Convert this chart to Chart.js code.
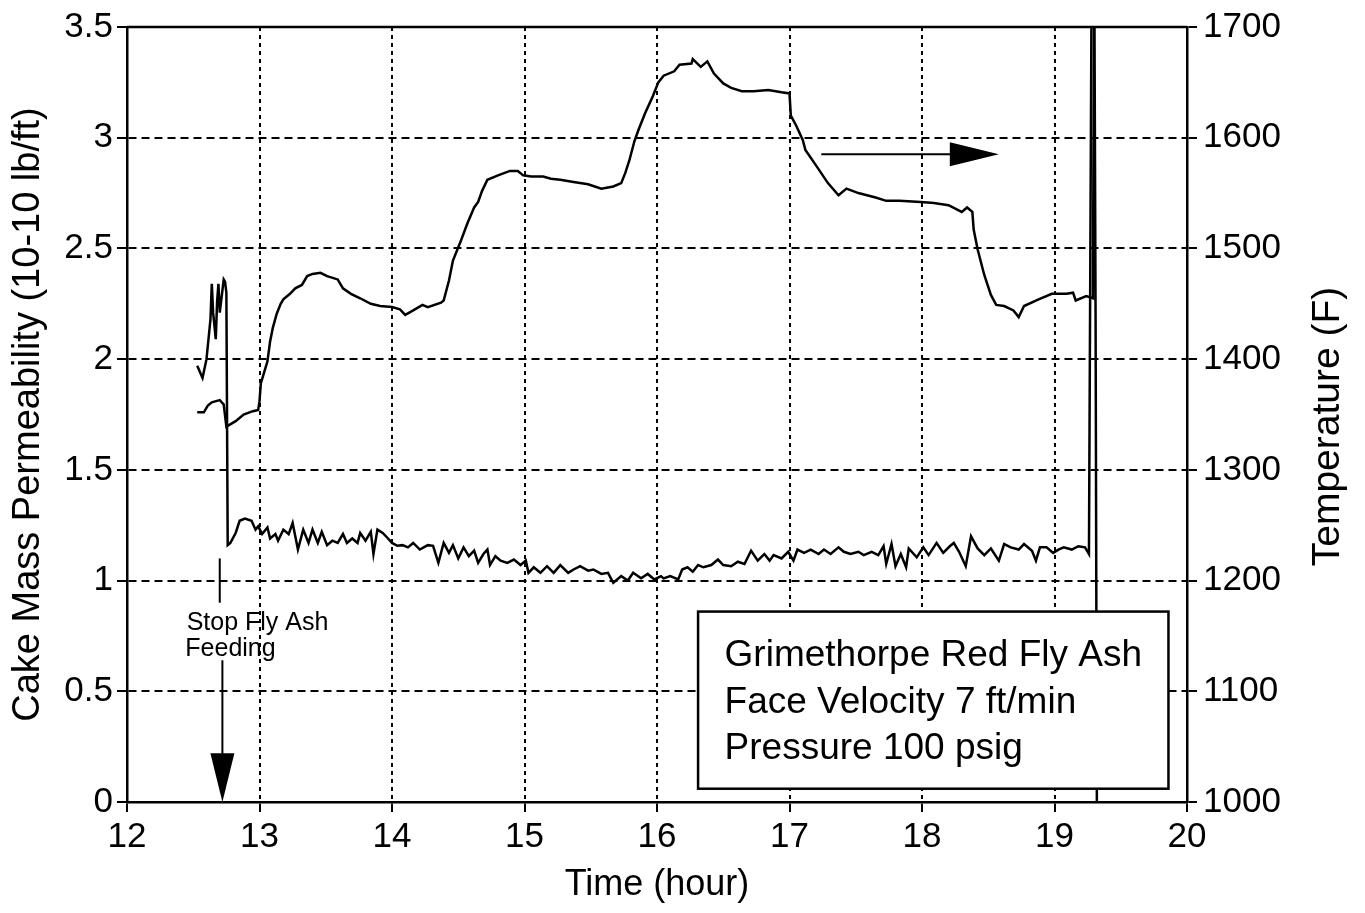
<!DOCTYPE html>
<html>
<head>
<meta charset="utf-8">
<title>Cake Mass Permeability and Temperature</title>
<script src="https://cdn.jsdelivr.net/npm/chart.js@4.4.1/dist/chart.umd.min.js"></script>
<style>
  html, body { margin: 0; padding: 0; background: #fff; }
  #wrap { width: 1365px; height: 913px; }
</style>
</head>
<body>
<div id="wrap"><canvas id="perm-chart" width="1365" height="913"></canvas></div>
<script>
// cake mass permeability, 10^-10 lb/ft (left axis)
var permTime = [
    12.53, 12.57, 12.60, 12.63, 12.64, 12.65, 12.67, 12.68, 12.69, 12.70,
    12.72, 12.73, 12.74, 12.75, 12.76, 12.77, 12.78, 12.82, 12.85, 12.89,
    12.94, 12.97, 12.99, 13.02, 13.06, 13.08, 13.12, 13.14, 13.18, 13.22,
    13.25, 13.29, 13.33, 13.37, 13.40, 13.44, 13.47, 13.51, 13.55, 13.59,
    13.63, 13.66, 13.70, 13.74, 13.76, 13.80, 13.84, 13.86, 13.89, 13.93,
    13.97, 14.00, 14.04, 14.08, 14.12, 14.16, 14.21, 14.27, 14.31, 14.35,
    14.39, 14.43, 14.46, 14.50, 14.54, 14.58, 14.62, 14.65, 14.69, 14.72,
    14.74, 14.78, 14.82, 14.87, 14.92, 14.97, 15.01, 15.03, 15.07, 15.12,
    15.17, 15.22, 15.27, 15.33, 15.37, 15.42, 15.48, 15.52, 15.58, 15.63,
    15.67, 15.73, 15.78, 15.82, 15.88, 15.93, 15.98, 16.03, 16.05, 16.10,
    16.16, 16.19, 16.23, 16.27, 16.31, 16.35, 16.41, 16.46, 16.50, 16.56,
    16.61, 16.66, 16.71, 16.76, 16.81, 16.85, 16.88, 16.94, 16.99, 17.03,
    17.06, 17.11, 17.16, 17.22, 17.26, 17.31, 17.37, 17.41, 17.46, 17.52,
    17.56, 17.62, 17.67, 17.71, 17.73, 17.77, 17.80, 17.84, 17.88, 17.90,
    17.96, 18.01, 18.05, 18.11, 18.16, 18.21, 18.24, 18.28, 18.33, 18.37,
    18.42, 18.47, 18.52, 18.58, 18.62, 18.67, 18.73, 18.77, 18.83, 18.86,
    18.89, 18.94, 18.99, 19.03, 19.07, 19.13, 19.18, 19.23, 19.26, 19.28
];
var permValue = [
    1.97, 1.915, 2.00, 2.18, 2.34, 2.21, 2.09, 2.26, 2.34, 2.21,
    2.31, 2.36, 2.35, 2.30, 1.16, 1.165, 1.17, 1.215, 1.27, 1.28,
    1.27, 1.23, 1.245, 1.21, 1.24, 1.19, 1.21, 1.18, 1.23, 1.21,
    1.26, 1.14, 1.23, 1.17, 1.23, 1.17, 1.22, 1.16, 1.18, 1.17,
    1.21, 1.17, 1.19, 1.17, 1.215, 1.18, 1.22, 1.12, 1.23, 1.215,
    1.19, 1.17, 1.157, 1.16, 1.15, 1.17, 1.14, 1.16, 1.157, 1.08,
    1.17, 1.125, 1.16, 1.10, 1.15, 1.11, 1.135, 1.08, 1.12, 1.14,
    1.07, 1.11, 1.09, 1.08, 1.095, 1.07, 1.09, 1.035, 1.06, 1.035,
    1.065, 1.035, 1.07, 1.035, 1.05, 1.065, 1.045, 1.05, 1.03, 1.035,
    0.99, 1.02, 1.00, 1.035, 1.01, 1.03, 1.005, 1.02, 1.01, 1.02,
    1.005, 1.05, 1.06, 1.04, 1.07, 1.06, 1.07, 1.095, 1.07, 1.065,
    1.085, 1.075, 1.135, 1.09, 1.12, 1.09, 1.115, 1.10, 1.13, 1.09,
    1.14, 1.125, 1.14, 1.12, 1.14, 1.12, 1.15, 1.13, 1.12, 1.13,
    1.115, 1.13, 1.115, 1.155, 1.075, 1.165, 1.065, 1.12, 1.06, 1.145,
    1.105, 1.15, 1.115, 1.17, 1.125, 1.155, 1.17, 1.13, 1.065, 1.20,
    1.145, 1.115, 1.145, 1.09, 1.165, 1.15, 1.14, 1.165, 1.135, 1.09,
    1.15, 1.15, 1.125, 1.14, 1.15, 1.14, 1.155, 1.15, 1.12, 3.70
];

// filter temperature, F (right axis)
var tempTime = [
    12.53, 12.58, 12.61, 12.64, 12.70, 12.73, 12.75, 12.82, 12.88, 12.95,
    12.99, 13.00, 13.01, 13.03, 13.06, 13.08, 13.10, 13.13, 13.16, 13.18,
    13.23, 13.27, 13.32, 13.36, 13.40, 13.46, 13.51, 13.59, 13.63, 13.69,
    13.76, 13.84, 13.91, 14.00, 14.06, 14.10, 14.16, 14.23, 14.27, 14.37,
    14.39, 14.43, 14.46, 14.52, 14.57, 14.62, 14.65, 14.68, 14.72, 14.80,
    14.89, 14.95, 14.99, 15.05, 15.14, 15.20, 15.27, 15.37, 15.48, 15.58,
    15.67, 15.73, 15.76, 15.79, 15.83, 15.86, 15.91, 15.97, 16.01, 16.05,
    16.13, 16.17, 16.26, 16.27, 16.33, 16.38, 16.43, 16.50, 16.56, 16.64,
    16.73, 16.84, 16.94, 17.00, 17.01, 17.05, 17.10, 17.12, 17.20, 17.29,
    17.37, 17.43, 17.52, 17.65, 17.73, 17.83, 17.99, 18.09, 18.20, 18.30,
    18.34, 18.38, 18.39, 18.42, 18.47, 18.52, 18.56, 18.62, 18.69, 18.73,
    18.77, 18.88, 18.98, 19.09, 19.14, 19.16, 19.24, 19.29, 19.30, 19.31,
    19.32
];
var tempValue = [
    1352, 1352, 1358, 1361, 1363, 1359, 1339, 1344, 1350, 1353,
    1354, 1362, 1378, 1386, 1398, 1416, 1428, 1441, 1450, 1454,
    1459, 1464, 1467, 1475, 1477, 1478, 1475, 1472, 1464, 1459,
    1455, 1450, 1448, 1447, 1445, 1440, 1444, 1449, 1447, 1451,
    1453, 1471, 1489, 1507, 1523, 1537, 1542, 1552, 1562, 1566,
    1570, 1570, 1566, 1565, 1565, 1563, 1562, 1560, 1558, 1554,
    1556, 1559, 1568, 1579, 1597, 1607, 1622, 1638, 1650, 1656,
    1660, 1666, 1667, 1671, 1664, 1669, 1658, 1649, 1645, 1642,
    1642, 1643, 1641, 1640, 1620, 1611, 1598, 1589, 1575, 1559,
    1548, 1554, 1550, 1546, 1543, 1543, 1542, 1541, 1539, 1533,
    1537, 1533, 1517, 1499, 1476, 1458, 1449, 1448, 1444, 1438,
    1448, 1454, 1459, 1459, 1460, 1453, 1457, 1455, 1760, 1440,
    990
];

var infoLines = ["Grimethorpe Red Fly Ash", "Face Velocity 7 ft/min", "Pressure 100 psig"];
var feedLines = ["Stop Fly Ash", "Feeding"];

var FONT = '"Liberation Sans", Arial, Helvetica, sans-serif';
Chart.defaults.font.family = FONT;
Chart.defaults.color = '#000';

function toPoints(xs, ys) {
    return xs.map(function (x, i) { return { x: x, y: ys[i] }; });
}

function arrowHead(ctx, tipX, tipY, baseX, baseY, half) {
    var dx = tipX - baseX, dy = tipY - baseY;
    var len = Math.sqrt(dx * dx + dy * dy);
    var nx = -dy / len * half, ny = dx / len * half;
    ctx.beginPath();
    ctx.moveTo(tipX, tipY);
    ctx.lineTo(baseX + nx, baseY + ny);
    ctx.lineTo(baseX - nx, baseY - ny);
    ctx.closePath();
    ctx.fill();
}

// frame top, arrows, notes and the info box
var notes = {
    id: 'notes',
    afterDatasetsDraw: function (chart) {
        var ctx = chart.ctx;
        var xs = chart.scales.x, ys = chart.scales.y, ts = chart.scales.y2;
        var area = chart.chartArea;
        ctx.save();
        ctx.strokeStyle = '#000';
        ctx.fillStyle = '#000';

        ctx.lineWidth = 2.5;
        ctx.beginPath();
        ctx.moveTo(area.left, area.top);
        ctx.lineTo(area.right, area.top);
        ctx.stroke();

        // temperature curve belongs to the right axis
        var ay = ts.getPixelForValue(1585);
        ctx.lineWidth = 2;
        ctx.beginPath();
        ctx.moveTo(xs.getPixelForValue(17.24), ay);
        ctx.lineTo(xs.getPixelForValue(18.22), ay);
        ctx.stroke();
        arrowHead(ctx, xs.getPixelForValue(18.58), ay, xs.getPixelForValue(18.21), ay, 12);

        // stop feeding marker
        var fx = xs.getPixelForValue(12.70);
        ctx.lineWidth = 2;
        ctx.beginPath();
        ctx.moveTo(fx, ys.getPixelForValue(1.1));
        ctx.lineTo(fx, ys.getPixelForValue(0.9));
        ctx.stroke();
        ctx.font = '25px ' + FONT;
        ctx.textAlign = 'left';
        ctx.textBaseline = 'alphabetic';
        ctx.fillText(feedLines[0], xs.getPixelForValue(12.45), ys.getPixelForValue(0.775));
        ctx.fillText(feedLines[1], xs.getPixelForValue(12.44), ys.getPixelForValue(0.66));
        var sx = xs.getPixelForValue(12.72);
        ctx.beginPath();
        ctx.moveTo(sx, ys.getPixelForValue(0.64));
        ctx.lineTo(sx, ys.getPixelForValue(0.2));
        ctx.stroke();
        arrowHead(ctx, sx, ys.getPixelForValue(0), sx, ys.getPixelForValue(0.22), 12);

        // info box
        var bl = xs.getPixelForValue(16.31), br = xs.getPixelForValue(19.86);
        var bt = ys.getPixelForValue(0.86), bb = ys.getPixelForValue(0.06);
        ctx.fillStyle = '#fff';
        ctx.fillRect(bl, bt, br - bl, bb - bt);
        ctx.lineWidth = 2.5;
        ctx.strokeRect(bl, bt, br - bl, bb - bt);
        ctx.fillStyle = '#000';
        ctx.font = '37px ' + FONT;
        var tx = xs.getPixelForValue(16.51);
        var rows = [0.615, 0.404, 0.193];
        infoLines.forEach(function (line, i) {
            ctx.fillText(line, tx, ys.getPixelForValue(rows[i]));
        });

        // right axis title, read bottom to top
        ctx.translate(area.right + 141, (area.top + area.bottom) / 2 + 12);
        ctx.rotate(-Math.PI / 2);
        ctx.textAlign = 'center';
        ctx.textBaseline = 'middle';
        ctx.font = '39px ' + FONT;
        ctx.fillText('Temperature (F)', 0, 0);
        ctx.restore();
    }
};

var chartEl = document.getElementById('perm-chart');
var permChart = new Chart(chartEl, {
    type: 'line',
    data: {
        datasets: [{
            label: 'Cake Mass Permeability',
            data: toPoints(permTime, permValue),
            yAxisID: 'y',
            borderColor: '#000',
            borderWidth: 2.5,
            pointRadius: 0,
            tension: 0
        }, {
            label: 'Temperature',
            data: toPoints(tempTime, tempValue),
            yAxisID: 'y2',
            borderColor: '#000',
            borderWidth: 2.5,
            pointRadius: 0,
            tension: 0
        }]
    },
    options: {
        responsive: false,
        animation: false,
        events: [],
        layout: { padding: { top: 22, left: 0, right: 0, bottom: 0 } },
        plugins: {
            legend: { display: false },
            tooltip: { enabled: false }
        },
        scales: {
            x: {
                type: 'linear',
                min: 12,
                max: 20,
                afterFit: function (s) { s.height = 111; },
                ticks: {
                    stepSize: 1,
                    maxRotation: 0,
                    padding: 4,
                    font: { size: 35 }
                },
                grid: { color: '#000', lineWidth: 2, tickLength: 10, tickWidth: 2, tickColor: '#000' },
                border: { display: true, color: '#000', width: 2.5, dash: [4, 4] },
                title: {
                    display: true,
                    text: 'Time (hour)',
                    font: { size: 36 },
                    padding: { top: 0, bottom: 6 }
                }
            },
            y: {
                position: 'left',
                min: 0,
                max: 3.5,
                afterFit: function (s) { s.width = 127; },
                ticks: {
                    stepSize: 0.5,
                    padding: 4,
                    font: { size: 35 },
                    callback: function (v) { return String(v); }
                },
                grid: { color: '#000', lineWidth: 2, tickLength: 10, tickWidth: 2, tickColor: '#000' },
                border: { display: true, color: '#000', width: 2.5, dash: [8, 5] },
                title: {
                    display: true,
                    text: 'Cake Mass Permeability (10-10 lb/ft)',
                    font: { size: 38 },
                    padding: { top: 6, bottom: 0 }
                }
            },
            y2: {
                position: 'right',
                min: 1000,
                max: 1700,
                afterFit: function (s) { s.width = 178; },
                ticks: {
                    stepSize: 100,
                    padding: 6,
                    font: { size: 35 },
                    callback: function (v) { return String(v); }
                },
                grid: { drawOnChartArea: false, color: '#000', lineWidth: 2, tickLength: 10, tickWidth: 2, tickColor: '#000' },
                border: { display: true, color: '#000', width: 2.5 }
            }
        }
    },
    plugins: [notes]
});
</script>
</body>
</html>
